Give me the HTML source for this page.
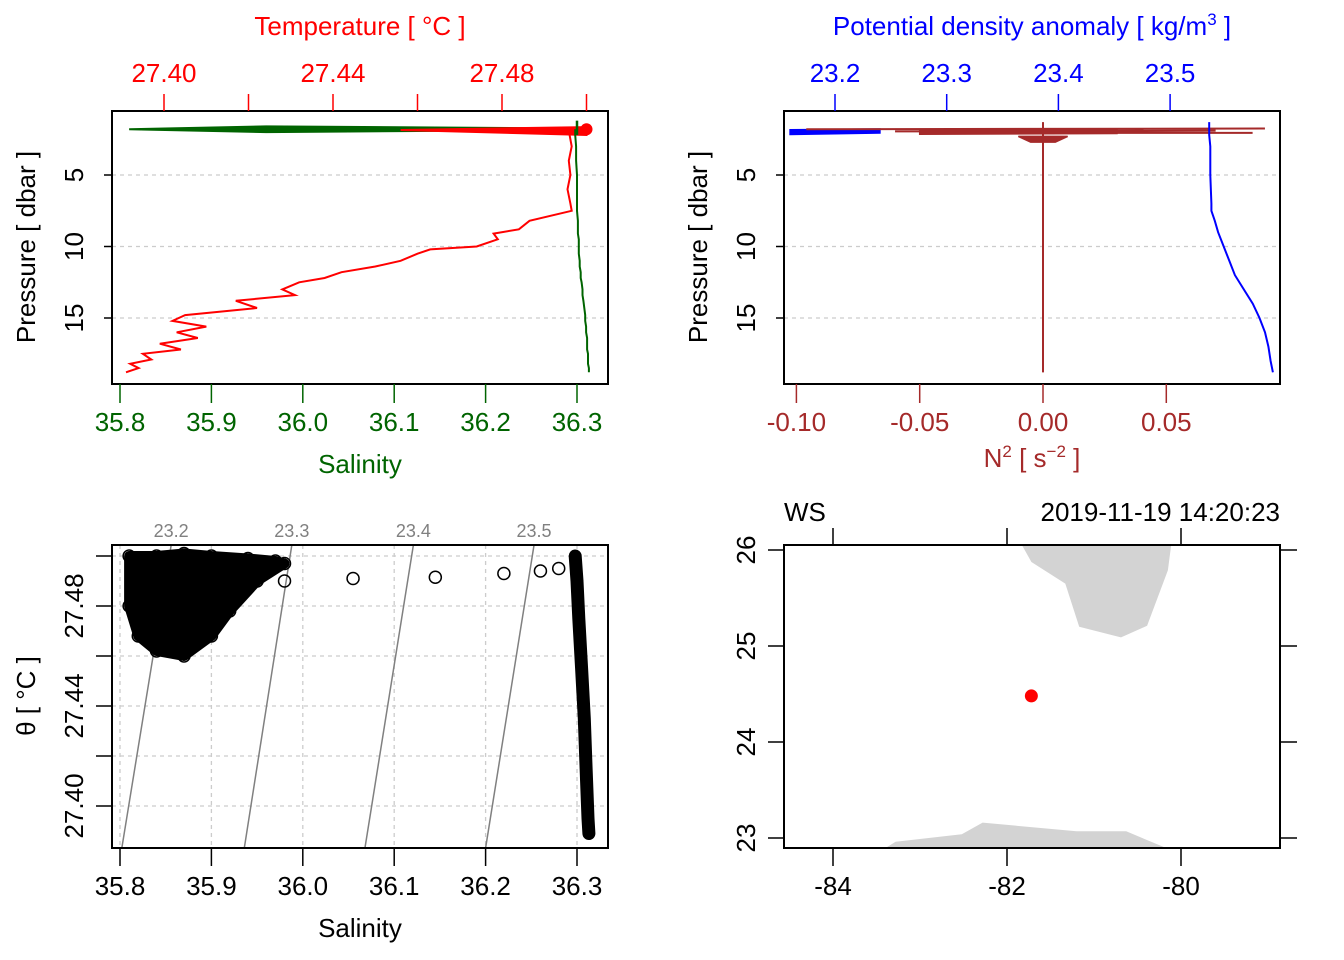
<!DOCTYPE html>
<html><head><meta charset="utf-8"><style>
html,body{margin:0;padding:0;background:#fff;}
svg{display:block;font-family:"Liberation Sans",sans-serif;}
</style></head><body>
<svg id="c" width="1344" height="960" viewBox="0 0 1344 960"></svg>
<script>
// ---------- data ----------
const profPressure = [1.8,2.2,3,4,5,6,7,7.5,8.2,8.8,9.1,9.5,10,10.2,10.5,11,11.4,11.8,12.2,12.5,13,13.4,13.8,14.3,14.8,15.2,15.6,16,16.4,16.8,17.2,17.5,17.9,18.2,18.5,18.8];
const profTemp     = [27.497,27.496,27.4965,27.4958,27.4962,27.4955,27.4962,27.4965,27.4865,27.484,27.478,27.479,27.474,27.463,27.46,27.456,27.45,27.442,27.438,27.432,27.428,27.431,27.417,27.422,27.405,27.402,27.41,27.403,27.408,27.399,27.404,27.395,27.397,27.392,27.394,27.391];
const profSal      = [36.298,36.298,36.299,36.299,36.300,36.300,36.300,36.300,36.301,36.301,36.301,36.302,36.302,36.302,36.302,36.303,36.303,36.304,36.304,36.305,36.306,36.306,36.307,36.308,36.309,36.309,36.310,36.310,36.311,36.311,36.311,36.312,36.312,36.312,36.313,36.313];
const surfTempRange = [27.456,27.500];
const surfSalRange  = [35.81,36.30];
const densPressure = [1.8,2.2,3,5,7,7.5,8.2,9,10,11,12,13,14,15,16,17,18,18.8];
const densSigma    = [23.535,23.535,23.536,23.536,23.537,23.537,23.54,23.543,23.548,23.553,23.558,23.566,23.574,23.58,23.585,23.588,23.59,23.592];
const surfSigmaRange = [23.16,23.24];
const n2SurfRange = [-0.095,0.09];
const tsSal   = [36.298,36.300,36.302,36.305,36.308,36.310,36.312,36.313];
const tsTheta = [27.500,27.490,27.475,27.455,27.435,27.415,27.395,27.389];
const tsBlobS = [35.81,35.84,35.87,35.9,35.94,35.97,35.98,35.95,35.92,35.9,35.87,35.84,35.82,35.81];
const tsBlobT = [27.500,27.500,27.501,27.500,27.499,27.498,27.497,27.490,27.478,27.468,27.460,27.462,27.468,27.48];
const tsLooseS = [35.94,35.98,36.055,36.145,36.22,36.26,36.28];
const tsLooseT = [27.490,27.490,27.491,27.4915,27.493,27.494,27.495];
const isoLabels = ["23.2","23.3","23.4","23.5"];
const isoTopS = [35.856,35.988,36.121,36.253];
const isoBotS = [35.802,35.936,36.068,36.2];
const coastTopLon = [-81.84,-81.72,-81.33,-81.17,-80.69,-80.39,-80.15,-80.11];
const coastTopLat = [26.07,25.875,25.65,25.20,25.09,25.21,25.79,26.07];
const coastBotLon = [-83.48,-83.28,-82.52,-82.28,-81.20,-80.63,-80.05];
const coastBotLat = [22.85,22.96,23.04,23.16,23.07,23.07,22.85];
const stationLon = [-81.72];
const stationLat = [24.48];
const salTicks = ["35.8","35.9","36.0","36.1","36.2","36.3"];
const tempTicks = [27.40,27.42,27.44,27.46,27.48,27.50];
const presTicks = [5,10,15];
const sigTicks = ["23.2","23.3","23.4","23.5"];
const n2Ticks = ["-0.10","-0.05","0.00","0.05"];
const thetaTicks = [27.40,27.42,27.44,27.46,27.48,27.50];
const lonTicks = [-84,-82,-80];
const latTicks = [23,24,25,26];

// ---------- helpers ----------
const svg = document.getElementById('c');
const NS = 'http://www.w3.org/2000/svg';
const FS = 26;
function mk(tag, attrs, parent){const e=document.createElementNS(NS,tag);for(const k in attrs)e.setAttribute(k,attrs[k]);(parent||svg).appendChild(e);return e;}
function txt(x,y,s,attrs,name){const e=mk('text',Object.assign({x:x,y:y,'font-size':FS,'text-anchor':'middle'},attrs||{}));e.textContent=s;


return e;}
function line(x1,y1,x2,y2,st,w,dash){return mk('line',{x1,y1,x2,y2,stroke:st,'stroke-width':w||1.5,'stroke-dasharray':dash||'none'});}

// scales
const xS = s => 120 + (s-35.8)*914;
const xT = t => 164 + (t-27.40)*4225;
const yP = p => 103.5 + p*14.3;
const xSig = g => 835 + (g-23.2)*1117;
const xN2 = n => 1043 + n*2466;
const yTh = t => 806 - (t-27.40)*2500;
const xLon = l => 833 + (l+84)*87;
const yLat = l => 550 + (26-l)*96;
const GRID='#cccccc';

// ===== Panel 1 =====
for(const p of presTicks){const g=line(112,yP(p),608,yP(p),GRID,1.3,'4,4');

}
(function(){
  let e=mk('path',{d:`M${xS(surfSalRange[0])},${yP(1.8)} L${xS(35.96)},${yP(1.6)} L${xS(surfSalRange[1])},${yP(1.75)} L${xS(surfSalRange[1])},${yP(1.85)} L${xS(35.96)},${yP(2.0)} Z`,fill:'#006400',stroke:'#006400','stroke-width':2});
  
  
  e=mk('path',{d:`M${xT(surfTempRange[0])},${yP(1.85)} L${xT(surfTempRange[1])},${yP(1.65)} L${xT(surfTempRange[1])},${yP(2.2)} Z`,fill:'#ff0000',stroke:'#ff0000','stroke-width':2});
  
  
  let d=profPressure.map((p,i)=>(i?'L':'M')+xT(profTemp[i]).toFixed(1)+','+yP(p).toFixed(1)).join(' ');
  e=mk('path',{d,fill:'none',stroke:'#ff0000','stroke-width':2});
  
  
  d=profPressure.map((p,i)=>(i?'L':'M')+xS(profSal[i]).toFixed(1)+','+yP(p).toFixed(1)).join(' ');
  e=mk('path',{d,fill:'none',stroke:'#006400','stroke-width':2});
  
  
  e=line(xS(surfSalRange[1]),yP(1.2),xS(surfSalRange[1]),yP(2.2),'#006400',2.5);
  
  
  e=mk('circle',{cx:xT(27.5),cy:yP(1.8),r:6,fill:'#ff0000'});
  
  
})();
let b=mk('rect',{x:112,y:111,width:496,height:273,fill:'none',stroke:'#000','stroke-width':2});

for(const p of presTicks){line(104,yP(p),112,yP(p),'#000',1.5);txt(0,0,String(p),{transform:`translate(83,${yP(p)}) rotate(-90)`},'pressure-tick-label');}
txt(0,0,'Pressure [ dbar ]',{transform:'translate(35,247) rotate(-90)'},'pressure-axis-title-left');
salTicks.forEach(s=>{const x=xS(+s);line(x,384,x,403,'#006400',1.5);txt(x,431,s,{fill:'#006400'},'salinity-tick-label');});
txt(360,473,'Salinity',{fill:'#006400'},'salinity-axis-title');
tempTicks.forEach((t,i)=>{const x=xT(t);line(x,111,x,94,'#ff0000',1.5);if(i%2==0)txt(x,82,t.toFixed(2),{fill:'#ff0000'},'temperature-tick-label');});
txt(360,35,'Temperature [ °C ]',{fill:'#ff0000'},'temperature-axis-title');

// ===== Panel 2 =====
for(const p of presTicks){const g=line(784,yP(p),1280,yP(p),GRID,1.3,'4,4');}
(function(){
  let e=mk('path',{d:`M${xSig(surfSigmaRange[0])},${yP(1.85)} L${xSig(surfSigmaRange[1])},${yP(1.8)} L${xSig(surfSigmaRange[1])},${yP(2.05)} L${xSig(surfSigmaRange[0])},${yP(2.15)} Z`,fill:'#0000ff',stroke:'#0000ff','stroke-width':2});
  
  
  e=mk('path',{d:`M${xN2(-0.096)},${yP(1.8)} L${xN2(n2SurfRange[1])},${yP(1.75)} M${xN2(-0.05)},${yP(2.05)} L${xN2(0.085)},${yP(2.05)} M${xN2(-0.06)},${yP(1.95)} L${xN2(0.07)},${yP(1.9)}`,fill:'none',stroke:'#a52a2a','stroke-width':2});
  
  
  e=mk('path',{d:`M${xN2(-0.05)},${yP(1.85)} L${xN2(0.03)},${yP(1.8)} L${xN2(0.03)},${yP(2.1)} L${xN2(-0.05)},${yP(2.15)} Z M${xN2(-0.01)},${yP(2.3)} L${xN2(0.01)},${yP(2.3)} L${xN2(0.005)},${yP(2.7)} L${xN2(-0.005)},${yP(2.7)} Z`,fill:'#a52a2a',stroke:'#a52a2a','stroke-width':1.5});
  
  
  e=line(xN2(0),yP(1.3),xN2(0),yP(18.8),'#a52a2a',2);
  
  
  const d='M'+xSig(densSigma[0])+','+yP(1.3)+' '+densPressure.map((p,i)=>'L'+xSig(densSigma[i]).toFixed(1)+','+yP(p).toFixed(1)).join(' ');
  e=mk('path',{d,fill:'none',stroke:'#0000ff','stroke-width':2});
  
  
})();
b=mk('rect',{x:784,y:111,width:496,height:273,fill:'none',stroke:'#000','stroke-width':2});

for(const p of presTicks){line(776,yP(p),784,yP(p),'#000',1.5);txt(0,0,String(p),{transform:`translate(755,${yP(p)}) rotate(-90)`},'pressure-tick-label-right');}
txt(0,0,'Pressure [ dbar ]',{transform:'translate(707,247) rotate(-90)'},'pressure-axis-title-right');
n2Ticks.forEach(s=>{const x=xN2(+s);line(x,384,x,403,'#a52a2a',1.5);txt(x,431,s,{fill:'#a52a2a'},'n2-tick-label');});
(function(){const t=txt(1032,467,'',{fill:'#a52a2a'},'n2-axis-title');
t.innerHTML='N<tspan dy="-10" font-size="17">2</tspan><tspan dy="10"> [ s</tspan><tspan dy="-10" font-size="17">−2</tspan><tspan dy="10"> ]</tspan>';})();
sigTicks.forEach(s=>{const x=xSig(+s);line(x,111,x,94,'#0000ff',1.5);txt(x,82,s,{fill:'#0000ff'},'density-tick-label');});
(function(){const t=txt(1032,35,'',{fill:'#0000ff'},'density-axis-title');
t.innerHTML='Potential density anomaly [ kg/m<tspan dy="-10" font-size="17">3</tspan><tspan dy="10"> ]</tspan>';})();

// ===== Panel 3 (TS) =====
salTicks.forEach(s=>{const g=line(xS(+s),545,xS(+s),848,GRID,1.3,'4,4');});
thetaTicks.forEach(t=>{const g=line(112,yTh(t),608,yTh(t),GRID,1.3,'4,4');});
isoLabels.forEach((l,i)=>{const g=line(xS(isoTopS[i]),545,xS(isoBotS[i]),848,'#808080',1.5);

txt(xS(isoTopS[i]),537,l,{fill:'#808080','font-size':18},'isopycnal-label');});
(function(){
  let d=tsBlobS.map((s,i)=>(i?'L':'M')+xS(s).toFixed(1)+','+yTh(tsBlobT[i]).toFixed(1)).join(' ')+' Z';
  let e=mk('path',{d,fill:'#000',stroke:'#000','stroke-width':10,'stroke-linejoin':'round'});
  
  
  tsBlobS.forEach((s,i)=>{const c=mk('circle',{cx:xS(s),cy:yTh(tsBlobT[i]),r:6,fill:'none',stroke:'#000','stroke-width':1.5});
  
  });
  d=tsSal.map((s,i)=>(i?'L':'M')+xS(s).toFixed(1)+','+yTh(tsTheta[i]).toFixed(1)).join(' ');
  e=mk('path',{d,fill:'none',stroke:'#000','stroke-width':13,'stroke-linecap':'round'});
  
  
  tsLooseS.forEach((s,i)=>{const c=mk('circle',{cx:xS(s),cy:yTh(tsLooseT[i]),r:6,fill:'none',stroke:'#000','stroke-width':1.5});
  
  });
})();
b=mk('rect',{x:112,y:545,width:496,height:303,fill:'none',stroke:'#000','stroke-width':2});

thetaTicks.forEach((t,i)=>{line(96,yTh(t),112,yTh(t),'#000',1.5);if(i%2==0)txt(0,0,t.toFixed(2),{transform:`translate(83,${yTh(t)}) rotate(-90)`},'theta-tick-label');});
txt(0,0,'θ [ °C ]',{transform:'translate(35,696) rotate(-90)'},'theta-axis-title');
salTicks.forEach(s=>{const x=xS(+s);line(x,848,x,866,'#000',1.5);txt(x,895,s,{},'ts-salinity-tick-label');});
txt(360,937,'Salinity',{},'ts-salinity-axis-title');

// ===== Panel 4 (map) =====
(function(){
  let d=coastTopLon.map((l,i)=>(i?'L':'M')+xLon(l).toFixed(1)+','+yLat(coastTopLat[i]).toFixed(1)).join(' ')+' Z';
  let e=mk('path',{d,fill:'#d3d3d3',stroke:'none'});
  
  
  d=coastBotLon.map((l,i)=>(i?'L':'M')+xLon(l).toFixed(1)+','+yLat(coastBotLat[i]).toFixed(1)).join(' ')+' Z';
  e=mk('path',{d,fill:'#d3d3d3',stroke:'none'});
  
  
  const c=mk('circle',{cx:xLon(stationLon[0]),cy:yLat(stationLat[0]),r:6.5,fill:'#ff0000'});
  
  
})();
(function(){let m=mk('rect',{x:784,y:500,width:500,height:44,fill:'#fff'});
m=mk('rect',{x:784,y:849,width:500,height:20,fill:'#fff'});})();
b=mk('rect',{x:784,y:545,width:496,height:303,fill:'none',stroke:'#000','stroke-width':2});

lonTicks.forEach(l=>{const x=xLon(l);line(x,848,x,866,'#000',1.5);line(x,545,x,528,'#000',1.5);txt(x,895,String(l),{},'longitude-tick-label');});
latTicks.forEach(l=>{const y=yLat(l);line(768,y,784,y,'#000',1.5);line(1280,y,1297,y,'#000',1.5);txt(0,0,String(l),{transform:`translate(755,${y}) rotate(-90)`},'latitude-tick-label');});
txt(784,521,'WS',{'text-anchor':'start'},'station-name');
txt(1280,521,'2019-11-19 14:20:23',{'text-anchor':'end'},'station-time');
</script>
</body></html>
